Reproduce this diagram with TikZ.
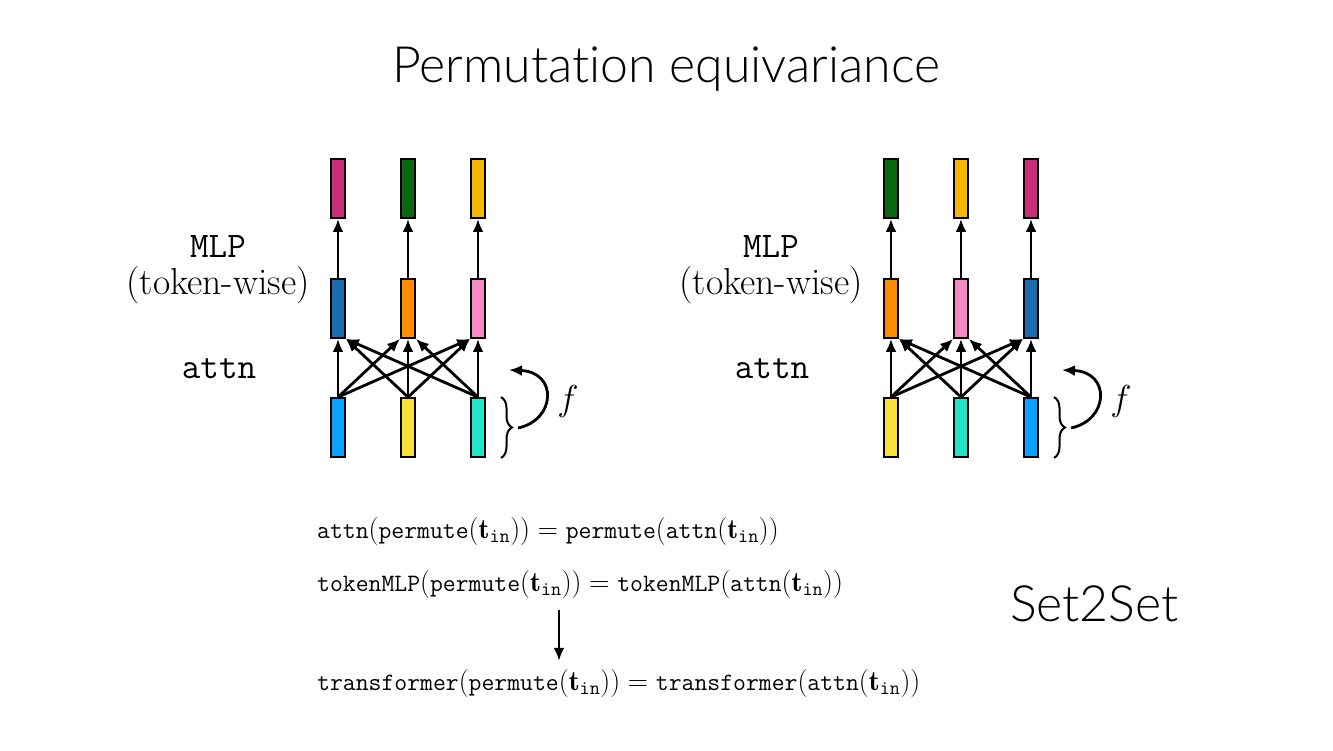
\RequirePackage{fix-cm}
\documentclass[tikz,border=0pt]{standalone}
\usepackage{fontspec}
\newfontfamily\headfont[Ligatures=NoCommon]{Lato Light}
\usetikzlibrary{arrows.meta,decorations.pathreplacing}

\definecolor{cMag}{RGB}{200,46,122}
\definecolor{cGreen}{RGB}{10,104,16}
\definecolor{cGold}{RGB}{244,184,0}
\definecolor{cSteel}{RGB}{26,108,174}
\definecolor{cOrange}{RGB}{255,140,0}
\definecolor{cPink}{RGB}{246,138,196}
\definecolor{cSky}{RGB}{10,162,255}
\definecolor{cYellow}{RGB}{247,224,58}
\definecolor{cTurq}{RGB}{34,228,200}

% typewriter words inside the equations
\newcommand\tw[1]{\mbox{\fontsize{25}{28}\selectfont\ttfamily #1}}
\newcommand\tin{\mathbf{t}_{\mathtt{in}}}

\tikzset{
  tok/.style={draw=black, line width=1.8pt, minimum width=14pt, minimum height=59pt, inner sep=0pt},
  arr/.style={line width=2.8pt, -{Latex[length=13pt,width=11pt]}},
  lbltt/.style={font=\ttfamily\fontsize{36}{40}\selectfont, inner sep=0pt},
  lblrm/.style={font=\fontsize{37.5}{42}\selectfont, inner sep=0pt},
  eqn/.style={font=\fontsize{28}{32}\selectfont, inner sep=0pt, anchor=base west},
  bigsans/.style={font=\headfont\fontsize{50}{60}\selectfont, inner sep=0pt},
  brc/.style={line width=2pt, decorate, decoration={brace, amplitude=11pt}},
}

\begin{document}
\begin{tikzpicture}[x=1pt,y=-1pt]
\useasboundingbox (0,0) rectangle (1333,750);

% title
\node[bigsans, anchor=base] (title) at (666,82) {Permutation equivariance};

% ---------- left block ----------
\node[tok, fill=cMag]    (lt1) at (338,188.5) {};
\node[tok, fill=cGreen]  (lt2) at (408,188.5) {};
\node[tok, fill=cGold]   (lt3) at (478,188.5) {};
\node[tok, fill=cSteel]  (lm1) at (338,308.5) {};
\node[tok, fill=cOrange] (lm2) at (408,308.5) {};
\node[tok, fill=cPink]   (lm3) at (478,308.5) {};
\node[tok, fill=cSky]    (lb1) at (338,427.5) {};
\node[tok, fill=cYellow] (lb2) at (408,427.5) {};
\node[tok, fill=cTurq]   (lb3) at (478,427.5) {};

\foreach \i in {1,2,3} \draw[arr] (lm\i.north) -- (lt\i.south);
\foreach \i in {1,2,3} \draw[arr] (lb\i.north) -- (lm\i.south);
\draw[arr] (lb2.north) -- (lm1.south east);
\draw[arr] (lb3.north) -- (lm1.south east);
\draw[arr] (lb1.north) -- (lm2.south west);
\draw[arr] (lb3.north) -- (lm2.south east);
\draw[arr] (lb1.north) -- (lm3.south west);
\draw[arr] (lb2.north) -- (lm3.south west);

\node[lbltt, anchor=base] (lmlp) at (218,257) {MLP};
\node[lblrm, anchor=base] (ltw) at (218,294) {(token-wise)};
\node[lbltt, anchor=base] (lattn) at (219,378) {attn};

\coordinate (lbrA) at ([xshift=23pt]lb3.north);
\coordinate (lbrB) at ([xshift=23pt]lb3.south);
\draw[brc] (lbrA) -- (lbrB);
\coordinate (lbrTip) at (518,428);
\coordinate (lret) at (509,370);
\draw[arr] (lbrTip) .. controls (556,420) and (558,372) .. (lret);
\node[lblrm, anchor=center, font=\fontsize{36}{40}\selectfont] (lf) at (568,401) {$f$};

% ---------- right block ----------
\node[tok, fill=cGreen]  (rt1) at (891,188.5) {};
\node[tok, fill=cGold]   (rt2) at (961,188.5) {};
\node[tok, fill=cMag]    (rt3) at (1031,188.5) {};
\node[tok, fill=cOrange] (rm1) at (891,308.5) {};
\node[tok, fill=cPink]   (rm2) at (961,308.5) {};
\node[tok, fill=cSteel]  (rm3) at (1031,308.5) {};
\node[tok, fill=cYellow] (rb1) at (891,427.5) {};
\node[tok, fill=cTurq]   (rb2) at (961,427.5) {};
\node[tok, fill=cSky]    (rb3) at (1031,427.5) {};

\foreach \i in {1,2,3} \draw[arr] (rm\i.north) -- (rt\i.south);
\foreach \i in {1,2,3} \draw[arr] (rb\i.north) -- (rm\i.south);
\draw[arr] (rb2.north) -- (rm1.south east);
\draw[arr] (rb3.north) -- (rm1.south east);
\draw[arr] (rb1.north) -- (rm2.south west);
\draw[arr] (rb3.north) -- (rm2.south east);
\draw[arr] (rb1.north) -- (rm3.south west);
\draw[arr] (rb2.north) -- (rm3.south west);

\node[lbltt, anchor=base] (rmlp) at (771,257) {MLP};
\node[lblrm, anchor=base] (rtw) at (771,294) {(token-wise)};
\node[lbltt, anchor=base] (rattn) at (772,378) {attn};

\coordinate (rbrA) at ([xshift=23pt]rb3.north);
\coordinate (rbrB) at ([xshift=23pt]rb3.south);
\draw[brc] (rbrA) -- (rbrB);
\coordinate (rbrTip) at (1071,428);
\coordinate (rret) at (1062,370);
\draw[arr] (rbrTip) .. controls (1109,420) and (1111,372) .. (rret);
\node[lblrm, anchor=center, font=\fontsize{36}{40}\selectfont] (rf) at (1121,401) {$f$};

% ---------- equations ----------
\node[eqn] (eq1) at (317,538)
  {$\tw{attn}(\tw{permute}(\tin)) = \tw{permute}(\tw{attn}(\tin))$};
\node[eqn] (eq2) at (317,591)
  {$\tw{tokenMLP}(\tw{permute}(\tin)) = \tw{tokenMLP}(\tw{attn}(\tin))$};
\node[eqn] (eq3) at (317,690)
  {$\tw{transformer}(\tw{permute}(\tin)) = \tw{transformer}(\tw{attn}(\tin))$};

\coordinate (dncol) at (559,0);
\draw[arr, shorten <=12pt, shorten >=8pt] (eq2.south -| dncol) -- (eq3.north -| dncol);

\node[bigsans, anchor=base west] (s2s) at (1010,621) {Set2Set};
\end{tikzpicture}
\end{document}
